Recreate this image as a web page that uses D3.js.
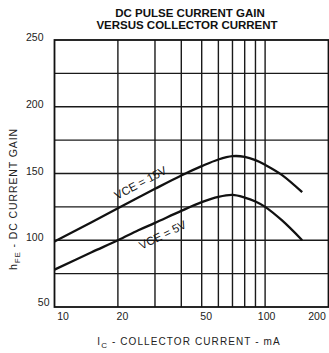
<!DOCTYPE html>
<html>
<head>
<meta charset="utf-8">
<script src="https://cdn.jsdelivr.net/npm/d3@7"></script>
<style>
  body { margin: 0; background: #fff; }
  svg { display: block; font-family: "Liberation Sans", Arial, sans-serif; }
</style>
</head>
<body>
<div id="chart"></div>
<script>
// collector current, mA
const currentMA = [10, 15, 20, 25, 30, 40, 50, 60, 70, 80, 90, 100, 120, 150];
// hFE for each VCE
const gain15V = [99, 113.5, 124, 132, 138.5, 148.5, 155.5, 160.5, 163, 162.5, 160, 156.5, 149, 136];
const gain5V = [78, 91, 100, 107.5, 113, 122, 128.5, 132.5, 134, 132, 129, 125, 115, 100];

const xTicks = [10, 20, 50, 100, 200];
const yTicks = [50, 100, 150, 200, 250];
const xGrid = [20, 30, 40, 50, 60, 70, 80, 90, 100];
const yGrid = [75, 100, 125, 150, 175, 200, 225];

const width = 329, height = 353;

const svg = d3.select("#chart")
  .append("svg")
  .attr("width", width)
  .attr("height", height);

const x = d3.scaleLog().domain([10, 200]).range([54.5, 328.5]);
const y = d3.scaleLinear().domain([50, 250]).range([307, 40]);

// title
svg.append("text")
  .attr("x", 190).attr("y", 17)
  .attr("text-anchor", "middle")
  .attr("font-size", 11.5).attr("font-weight", 700)
  .attr("fill", "#111")
  .text("DC PULSE CURRENT GAIN");
svg.append("text")
  .attr("x", 187).attr("y", 29)
  .attr("text-anchor", "middle")
  .attr("font-size", 11.5).attr("font-weight", 700)
  .attr("fill", "#111")
  .text("VERSUS COLLECTOR CURRENT");

// grid
const grid = svg.append("g").attr("stroke", "#1a1a1a").attr("stroke-width", 1.4);
grid.selectAll(".vx").data(xGrid).join("line")
  .attr("x1", d => x(d)).attr("x2", d => x(d))
  .attr("y1", y(250)).attr("y2", y(50));
grid.selectAll(".hy").data(yGrid).join("line")
  .attr("x1", x(10)).attr("x2", x(200))
  .attr("y1", d => y(d)).attr("y2", d => y(d));

// frame
svg.append("rect")
  .attr("x", x(10)).attr("y", y(250))
  .attr("width", x(200) - x(10)).attr("height", y(50) - y(250))
  .attr("fill", "none").attr("stroke", "#111").attr("stroke-width", 1.8);

// axes (labels only)
const xAxis = svg.append("g")
  .attr("transform", `translate(0,${y(50)})`)
  .call(d3.axisBottom(x).tickValues(xTicks).tickFormat(d3.format("d")).tickSize(0).tickPadding(6));
const yAxis = svg.append("g")
  .attr("transform", `translate(${x(10)},0)`)
  .call(d3.axisLeft(y).tickValues(yTicks).tickSize(0).tickPadding(11));
[xAxis, yAxis].forEach(a => {
  a.select(".domain").remove();
  a.selectAll("text").attr("font-size", 10.5).attr("fill", "#222")
    .attr("font-family", "'Liberation Sans Narrow', 'Liberation Sans', sans-serif");
});
yAxis.selectAll("text").attr("dy", "0.05em");
yAxis.selectAll("text").filter(d => d === 50).attr("dx", 6).attr("dy", "-0.1em");
xAxis.selectAll("text").attr("dx", 4);
xAxis.selectAll("text").filter(d => d === 10).attr("dx", 8);
xAxis.selectAll("text").filter(d => d === 100).attr("dx", 1);
xAxis.selectAll("text").filter(d => d === 200).attr("dx", -12);

// curves
const line = d3.line()
  .x((d, i) => x(currentMA[i]))
  .y(d => y(d))
  .curve(d3.curveCatmullRom.alpha(0.5));

[gain15V, gain5V].forEach(s => {
  svg.append("path")
    .attr("d", line(s))
    .attr("fill", "none")
    .attr("stroke", "#111")
    .attr("stroke-width", 2.3);
});

// curve labels
const curveLabels = [
  { text: "VCE = 15V", at: 25.6, gain: 143, angle: -28 },
  { text: "VCE = 5V", at: 32.6, gain: 104, angle: -26 }
];
svg.selectAll(".clabel").data(curveLabels).join("text")
  .attr("transform", d => `translate(${x(d.at)},${y(d.gain)}) rotate(${d.angle})`)
  .attr("text-anchor", "middle")
  .attr("dy", "0.35em")
  .attr("font-size", 11.5)
  .attr("fill", "#111")
  .text(d => d.text);

// axis titles
const xt = svg.append("text")
  .attr("x", 189).attr("y", 345)
  .attr("text-anchor", "middle")
  .attr("font-size", 10).attr("letter-spacing", 1.1)
  .attr("fill", "#222");
xt.append("tspan").text("I");
xt.append("tspan").attr("font-size", 8).attr("dy", 3).text("C");
xt.append("tspan").attr("dy", -3).text(" - COLLECTOR CURRENT - mA");

const yt = svg.append("text")
  .attr("transform", "translate(17,199) rotate(-90)")
  .attr("text-anchor", "middle")
  .attr("font-size", 10.5).attr("letter-spacing", 0.9)
  .attr("fill", "#222");
yt.append("tspan").text("h");
yt.append("tspan").attr("font-size", 8).attr("dy", 3).text("FE");
yt.append("tspan").attr("dy", -3).text(" - DC CURRENT GAIN");
</script>
</body>
</html>
